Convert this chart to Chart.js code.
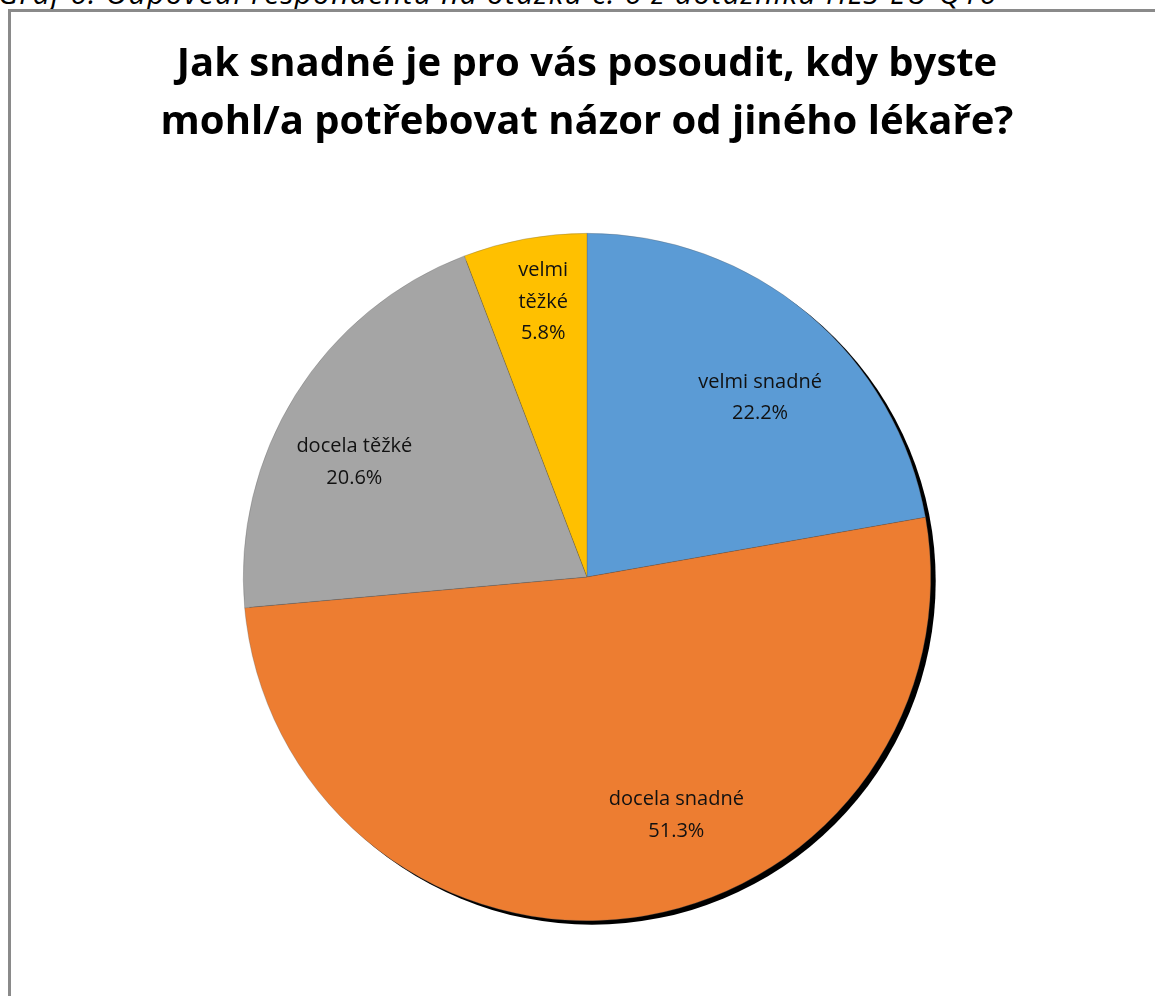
<!DOCTYPE html>
<html lang="cs">
<head>
<meta charset="utf-8">
<script src="https://cdn.jsdelivr.net/npm/chart.js@4"></script>
<style>
  html, body { margin: 0; padding: 0; background: #fff; overflow: hidden; }
  body { width: 1155px; height: 996px; position: relative; }
  .caption {
    position: absolute; left: -2px; top: -27px; white-space: nowrap;
    font: italic 30px "Open Sans", sans-serif; line-height: 40px; color: #000;
    letter-spacing: 1.2px;
  }
  .frame {
    position: absolute; left: 8px; top: 9px; width: 1200px; height: 1100px;
    border: 3px solid #8a8a8a; box-sizing: border-box;
  }
  #pie { position: absolute; left: 0; top: 0; }
</style>
</head>
<body>
<div class="caption">Graf 6: Odpovědi respondentů na otázku č. 6 z dotazníku HLS-EU-Q16</div>
<div class="frame"></div>
<canvas id="pie" width="1155" height="996"></canvas>
<script>
const titleLines = ['Jak snadné je pro vás posoudit, kdy byste', 'mohl/a potřebovat názor od jiného lékaře?'];
const categories = ['velmi snadné', 'docela snadné', 'docela těžké', 'velmi těžké'];
const shares = [22.2, 51.3, 20.6, 5.8];
const colors = ['#5b9bd5', '#ed7d31', '#a5a5a5', '#ffc000'];

// where each label sits: shift from the slice's mid angle (deg) and fraction of the radius
const labelPlace = [
  { turn: 4, frac: 0.725, lines: ['velmi snadné'] },
  { turn: -13, frac: 0.74, lines: ['docela snadné'] },
  { turn: -5.7, frac: 0.755, lines: ['docela těžké'] },
  { turn: 1.4, frac: 0.81, lines: ['velmi', 'těžké'] }
];

// black drop shadow behind the whole pie
const pieShadow = {
  id: 'pieShadow',
  beforeDatasetsDraw(chart) {
    const arc = chart.getDatasetMeta(0).data[0];
    if (!arc) return;
    const ctx = chart.ctx;
    ctx.save();
    ctx.fillStyle = '#000';
    ctx.beginPath();
    ctx.arc(arc.x + 5, arc.y + 4, arc.outerRadius, 0, Math.PI * 2);
    ctx.fill();
    ctx.restore();
  }
};

// category name + percentage inside each slice
const sliceLabels = {
  id: 'sliceLabels',
  afterDatasetsDraw(chart) {
    const ctx = chart.ctx;
    const meta = chart.getDatasetMeta(0);
    ctx.save();
    ctx.font = '20px "Open Sans", sans-serif';
    ctx.fillStyle = '#111';
    ctx.textAlign = 'center';
    ctx.textBaseline = 'middle';
    const lineH = 31.5;
    meta.data.forEach((arc, i) => {
      const place = labelPlace[i];
      const mid = (arc.startAngle + arc.endAngle) / 2 + place.turn * Math.PI / 180;
      const r = arc.outerRadius * place.frac;
      const cx = arc.x + Math.cos(mid) * r;
      const cy = arc.y + Math.sin(mid) * r;
      const lines = place.lines.concat([shares[i].toFixed(1) + '%']);
      const top = cy - (lines.length - 1) * lineH / 2;
      lines.forEach((t, k) => ctx.fillText(t, cx, top + k * lineH));
    });
    ctx.restore();
  }
};

new Chart(document.getElementById('pie'), {
  type: 'pie',
  data: {
    labels: categories,
    datasets: [{
      data: shares,
      backgroundColor: colors,
      borderColor: 'rgba(90,90,90,0.5)',
      borderWidth: 0.6
    }]
  },
  options: {
    responsive: false,
    animation: false,
    layout: { padding: { left: 20, right: 1, top: 0, bottom: 75 } },
    plugins: {
      legend: { display: false },
      tooltip: { enabled: false },
      title: {
        display: true,
        text: titleLines,
        color: '#000',
        font: { family: '"Open Sans", sans-serif', size: 40, weight: 'bold', lineHeight: 1.45 },
        padding: { top: 36, bottom: 81 }
      }
    }
  },
  plugins: [pieShadow, sliceLabels]
});
</script>
</body>
</html>
